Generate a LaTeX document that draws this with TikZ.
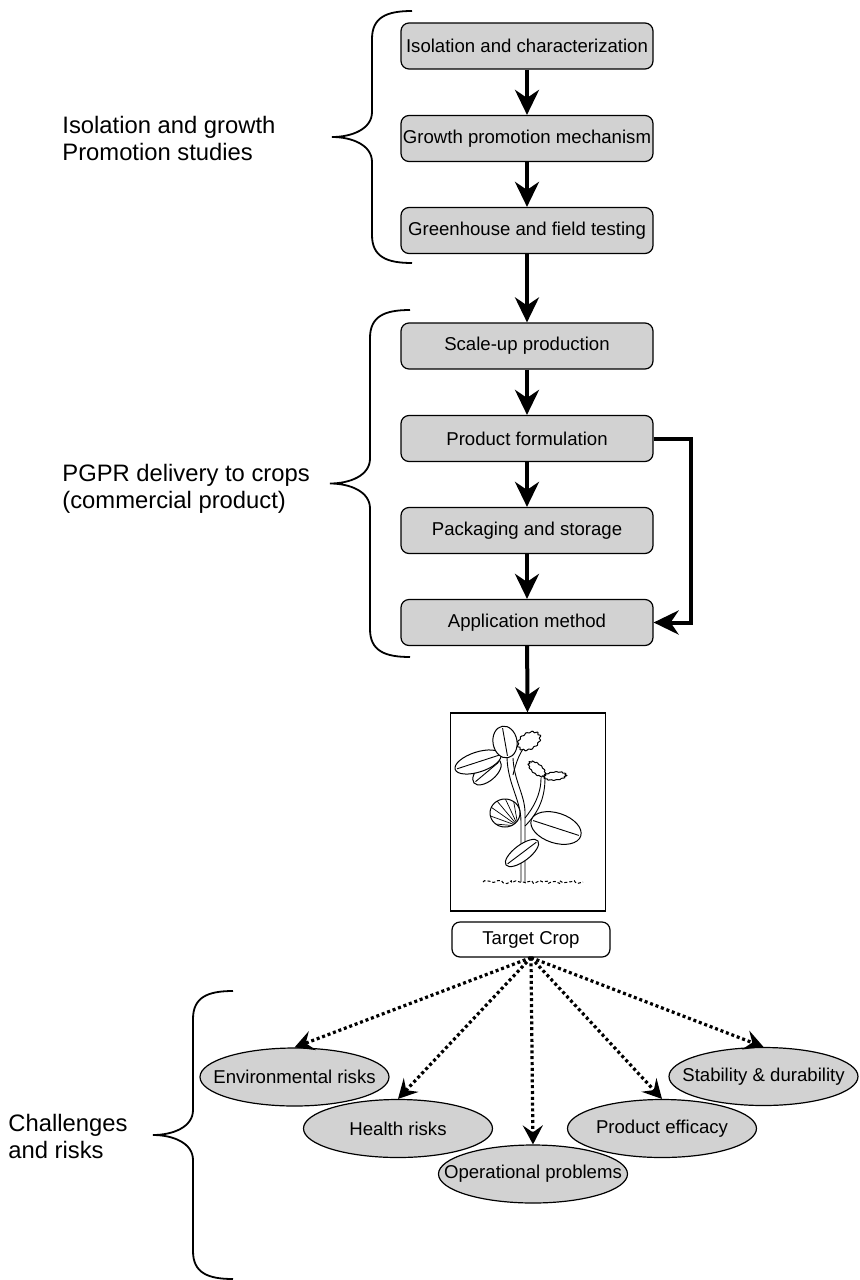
\documentclass[tikz,border=0pt]{standalone}
\usepackage{fontspec}
\setmainfont{Liberation Sans}
\usepackage{xcolor}
\definecolor{boxgray}{RGB}{210,210,210}
\usetikzlibrary{arrows.meta,positioning,shapes.geometric,decorations.pathmorphing}

\begin{document}
\begin{tikzpicture}[x=0.5pt,y=-0.5pt,
  stage/.style={draw,line width=0.6pt,rounded corners=4pt,fill=boxgray,minimum width=126pt,minimum height=23pt,inner sep=0pt,font=\fontsize{9.3}{11}\selectfont},
  risk/.style={draw,ellipse,line width=0.6pt,fill=boxgray,minimum width=94.5pt,minimum height=29pt,inner sep=0pt,font=\fontsize{9.3}{11}\selectfont},
  grp/.style={anchor=west,align=left,inner sep=0pt,font=\fontsize{11.9}{13.5}\selectfont},
  flow/.style={-{Stealth[length=12.5pt,width=12pt,inset=4pt]},line width=2pt},
  hint/.style={-{Stealth[length=9.5pt,width=10pt,inset=3.5pt]},line width=1.6pt,dash pattern=on 1.5pt off 1.4pt},
  leaf/.style={draw,fill=white,line width=0.5pt}]
  \useasboundingbox (0,0) rectangle (859,1280);
  % Lab and field stages
  \node[stage] (iso) at (527,46) {Isolation and characterization};
  \node[stage] (mech) at (527,138.5) {Growth promotion mechanism};
  \node[stage] (test) at (527,230.5) {Greenhouse and field testing};
  % Delivery stages
  \node[stage] (scale) at (527,346) {Scale-up production};
  \node[stage] (form) at (527,438.5) {Product formulation};
  \node[stage] (pack) at (527,530.5) {Packaging and storage};
  \node[stage] (appl) at (527,622.5) {Application method};
  % Crop
  \node[draw,line width=0.6pt,minimum width=77.5pt,minimum height=99pt,inner sep=0pt] (plant) at (528,812) {};
  \node[draw,line width=0.6pt,rounded corners=4pt,fill=white,minimum width=79pt,minimum height=17.5pt,inner sep=0pt,font=\fontsize{9.3}{11}\selectfont] (crop) at (531,939.5) {Target Crop};
  % Risks
  \node[risk] (env) at (294.5,1077) {\makebox[0pt]{Environmental risks}};
  \node[risk] (health) at (398,1128.5) {\makebox[0pt]{Health risks}};
  \node[risk] (oper) at (533,1174) {\makebox[0pt]{Operational problems}};
  \node[risk] (effic) at (662,1128.5) {\makebox[0pt]{Product efficacy}};
  \node[risk] (stab) at (763.5,1076.5) {\makebox[0pt]{Stability \& durability}};
  % Group labels and braces
  \node[grp] (lblA) at (62,138.5) {Isolation and growth\\Promotion studies};
  \node[grp] (lblB) at (62,488.5) {PGPR delivery to crops\\(commercial product)};
  \node[grp] (lblC) at (8,1136) {Challenges\\and risks};
  \foreach \xe/\yt/\yb in {412/11/263, 410/310/657, 233/991/1279}{
    \pgfmathsetmacro{\ym}{(\yt+\yb)/2}
    \draw[line width=0.9pt] (\xe,\yt) .. controls (\xe-25,\yt) and (\xe-40,\yt+6) .. (\xe-40,\yt+28)
      -- (\xe-40,\ym-25) .. controls (\xe-40,\ym-8) and (\xe-60,\ym) .. (\xe-80,\ym)
      .. controls (\xe-60,\ym) and (\xe-40,\ym+8) .. (\xe-40,\ym+25)
      -- (\xe-40,\yb-28) .. controls (\xe-40,\yb-6) and (\xe-25,\yb) .. (\xe,\yb);
  }
  % Flow
  \foreach \a/\b in {iso/mech, mech/test, test/scale, scale/form, form/pack, pack/appl, appl/plant}
    \draw[flow] (\a) -- (\b);
  \draw[flow] (form.east) -- ++(37,0) |- (appl.east);
  \foreach \r in {env,health,oper,effic,stab}
    \draw[hint] (crop.south) -- (\r.north);
  % Plant sketch
  \begin{scope}[line width=0.45pt]
    \draw[line width=0.5pt,decorate,decoration={random steps,segment length=1.5pt,amplitude=0.8pt},dash pattern=on 1.5pt off 1pt] (483,882) -- (583,882);
    \draw (521,882) -- (521,822) .. controls (521,800) and (508,785) .. (507,758);
    \draw (525,882) -- (525,816) .. controls (526,796) and (514,782) .. (513,758);
    \draw (525,818) .. controls (533,808) and (541,795) .. (541,778);
    \draw (525,826) .. controls (537,814) and (545,800) .. (545,778);
    \draw (513,775) .. controls (516,762) and (520,752) .. (526,745);
    \foreach \cx/\cy/\rx/\ry/\ang in {487/772/17/9/40, 478/762/24/10/18, 505/742/16/12/100, 556/828/26/15/-18, 522/853/20/8/37}{
      \begin{scope}[rotate around={\ang:(\cx,\cy)}]
        \draw[leaf] (\cx,\cy) ellipse [x radius=\rx, y radius=\ry];
        \draw (\cx-\rx+2,\cy) -- (\cx+\rx-2,\cy);
      \end{scope}
    }
    \draw[leaf] (505,813) ellipse [x radius=15, y radius=14];
    \begin{scope}
      \clip (505,813) ellipse [x radius=15, y radius=14];
      \foreach \t in {170,185,...,260}
        \draw[line width=0.35pt] (518,826) -- ++(\t:40);
    \end{scope}
    % serrated young leaves
    \foreach \cx/\cy/\rx/\ry/\ang in {529/741/12/8/30, 537/769/10/5/-40, 555/776/11/4/5}{
      \draw[leaf,rotate around={\ang:(\cx,\cy)}] plot[domain=0:360,samples=61]
        ({\cx+\rx*cos(\x)*(1+0.08*sin(12*\x))},{\cy+\ry*sin(\x)*(1+0.08*sin(12*\x))}) -- cycle;
    }
  \end{scope}
\end{tikzpicture}
\end{document}
